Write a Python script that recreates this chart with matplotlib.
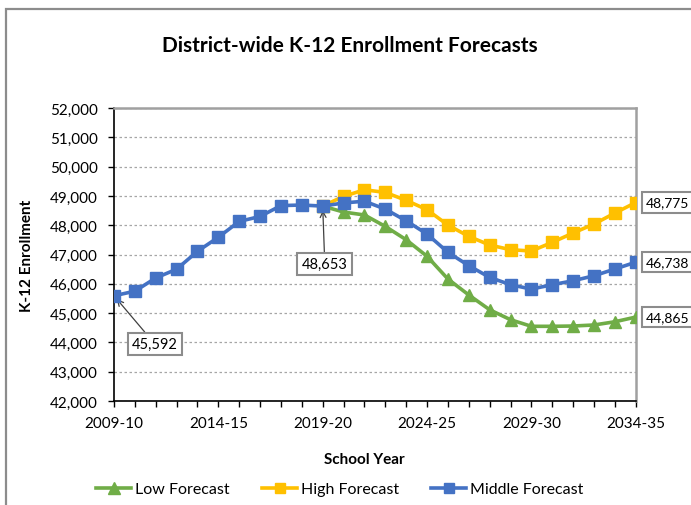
import matplotlib.pyplot as plt
from matplotlib.patches import Rectangle
from matplotlib.ticker import FuncFormatter, MultipleLocator

# School years 2009-10 .. 2034-35
years = [f"{y}-{str(y + 1)[-2:]}" for y in range(2009, 2035)]

# Middle forecast (actuals through 2019-20, then forecast)
middle = [45592, 45750, 46200, 46500, 47110, 47590, 48130, 48300, 48670, 48690,
          48653, 48760, 48820, 48550, 48150, 47700, 47075, 46620, 46220, 45970,
          45820, 45970, 46105, 46275, 46505, 46738]

# Low and high forecasts start at 2019-20
low = [48653, 48450, 48350, 47960, 47505, 46940, 46165, 45620, 45115, 44775,
       44550, 44550, 44560, 44595, 44705, 44865]
high = [48653, 48985, 49210, 49120, 48850, 48530, 48005, 47620, 47325, 47165,
        47120, 47415, 47735, 48040, 48415, 48775]

start = years.index("2019-20")
x_all = list(range(len(years)))
x_fc = x_all[start:]

plt.rcParams['font.family'] = ['Lato', 'DejaVu Sans']

fig = plt.figure(figsize=(6.91, 5.06), dpi=100)
ax = fig.add_axes([0.165, 0.2055, 0.755, 0.579])

blue = '#4472C4'
orange = '#FFC000'
green = '#70AD47'

ax.plot(x_fc, low, color=green, lw=2.6, marker='^', ms=9, label='Low Forecast', zorder=3)
ax.plot(x_fc, high, color=orange, lw=2.6, marker='s', ms=8, label='High Forecast', zorder=3)
ax.plot(x_all, middle, color=blue, lw=2.6, marker='s', ms=8, label='Middle Forecast', zorder=4)

ax.set_xlim(0, len(years) - 1)
ax.set_ylim(42000, 52000)
ax.yaxis.set_major_locator(MultipleLocator(1000))
ax.yaxis.set_major_formatter(FuncFormatter(lambda v, p: f"{int(v):,}"))
ax.set_xticks(x_all)
ax.set_xticklabels([years[i] if i % 5 == 0 else '' for i in x_all])
ax.tick_params(axis='both', direction='out', length=4.5, width=1, labelsize=11)
ax.tick_params(axis='y', pad=7)
ax.tick_params(axis='x', pad=6)
ax.grid(axis='y', color='#A6A6A6', lw=0.9, linestyle=(0, (2, 2)))
ax.set_axisbelow(True)

for side in ('left', 'bottom'):
    ax.spines[side].set_color('black')
    ax.spines[side].set_linewidth(1.2)
for side in ('top', 'right'):
    ax.spines[side].set_color('#A0A0A0')
    ax.spines[side].set_linewidth(1.8)

ax.set_xlabel('School Year', fontsize=11, fontweight='bold')
ax.xaxis.set_label_coords(0.48, -0.175)
ax.set_ylabel('K-12 Enrollment', fontsize=11, fontweight='bold', labelpad=12)
fig.text(0.506, 0.909, 'District-wide K-12 Enrollment Forecasts',
         ha='center', va='center', fontsize=15, fontweight='bold')

box = dict(boxstyle='square,pad=0.3', fc='white', ec='#8C8C8C', lw=1.5)
arrow = dict(arrowstyle='->', color='#404040', lw=0.9, shrinkA=0, shrinkB=3)

ax.annotate(f"{middle[0]:,}", xy=(0, middle[0]), xytext=(1.96, 43945),
            ha='center', va='center', fontsize=10.5, bbox=box, arrowprops=arrow)
ax.annotate(f"{middle[start]:,}", xy=(start, middle[start]), xytext=(start + 0.1, 46680),
            ha='center', va='center', fontsize=10.5, bbox=box, arrowprops=arrow)

# End-of-series values beside the plot
for vals in (high, middle, low):
    ax.annotate(f"{vals[-1]:,}", xy=(len(years) - 1, vals[-1]), xytext=(10, 0),
                textcoords='offset pixels', ha='left', va='center', fontsize=10,
                bbox=box, annotation_clip=False)

handles, labels = ax.get_legend_handles_labels()
fig.legend(handles, labels, loc='center', bbox_to_anchor=(0.492, 0.031), ncol=3,
           frameon=False, fontsize=11.5, handlelength=2.2, columnspacing=2.0,
           handletextpad=0.25, markerscale=0.9)

# Outer chart border
fig.patches.append(Rectangle((0.0087, -0.2), 1.3, 1.18, transform=fig.transFigure,
                             fill=False, ec='#8C8C8C', lw=1.6))

fig.savefig('out.png', dpi=100)
